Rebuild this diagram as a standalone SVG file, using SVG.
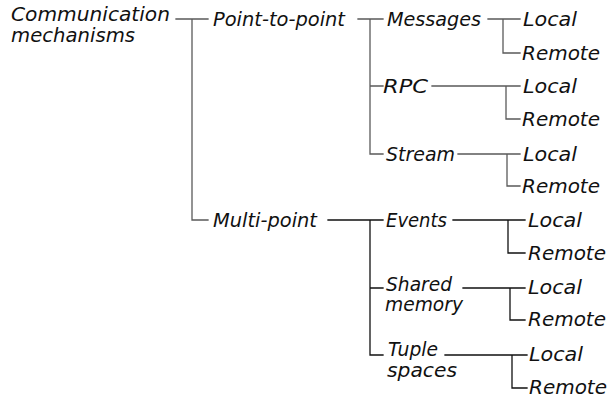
<svg xmlns="http://www.w3.org/2000/svg" width="609" height="398" viewBox="0 0 609 398">
  <style>
    .lbl { font-family: "DejaVu Sans", "Liberation Sans", sans-serif; font-style: italic; font-size: 19px; fill: #111; }
    .ln { fill: none; stroke-width: 1.3; stroke-linecap: square; }
    .gray { stroke: #5a5a5a; }
    .dark { stroke: #111; }
  </style>
  <rect width="609" height="398" fill="#fff"/>

  <!-- tree connectors -->
  <g id="connectors">
    <!-- root -->
    <path class="ln gray" d="M176 19H208M192 19V220H208"/>
    <!-- point-to-point branch -->
    <path class="ln gray" d="M358 19H383M370 19V154H383M370 86H383"/>
    <path class="ln gray" d="M488 19H520M503 19V53H520"/>
    <path class="ln gray" d="M432 86H520M506 86V119H520"/>
    <path class="ln gray" d="M458 154H520M507 154V186H520"/>
    <!-- multi-point branch -->
    <path class="ln dark" d="M328 220H383M370 220V355H383M370 288H383"/>
    <path class="ln dark" d="M453 220H525M508 220V253H525"/>
    <path class="ln dark" d="M463 288H525M510 288V320H525"/>
    <path class="ln dark" d="M445 355H527M512 355V388H527"/>
  </g>

  <g id="root">
    <text class="lbl" x="11" y="21" textLength="159" lengthAdjust="spacingAndGlyphs">Communication</text>
    <text class="lbl" x="11" y="42" textLength="124" lengthAdjust="spacingAndGlyphs">mechanisms</text>
  </g>
  <g id="point-to-point">
    <text class="lbl" x="213" y="26" textLength="132" lengthAdjust="spacingAndGlyphs">Point-to-point</text>
  </g>
  <g id="multi-point">
    <text class="lbl" x="213" y="227" textLength="104" lengthAdjust="spacingAndGlyphs">Multi-point</text>
  </g>

  <g id="messages">
    <text class="lbl" x="387" y="26" textLength="94" lengthAdjust="spacingAndGlyphs">Messages</text>
  </g>
  <g id="messages-local"><text class="lbl" x="523" y="26" textLength="54" lengthAdjust="spacingAndGlyphs">Local</text></g>
  <g id="messages-remote"><text class="lbl" x="522" y="60" textLength="78" lengthAdjust="spacingAndGlyphs">Remote</text></g>

  <g id="rpc">
    <text class="lbl" x="383" y="93" textLength="45" lengthAdjust="spacingAndGlyphs">RPC</text>
  </g>
  <g id="rpc-local"><text class="lbl" x="523" y="93" textLength="54" lengthAdjust="spacingAndGlyphs">Local</text></g>
  <g id="rpc-remote"><text class="lbl" x="522" y="126" textLength="78" lengthAdjust="spacingAndGlyphs">Remote</text></g>

  <g id="stream">
    <text class="lbl" x="386" y="161" textLength="69" lengthAdjust="spacingAndGlyphs">Stream</text>
  </g>
  <g id="stream-local"><text class="lbl" x="523" y="161" textLength="54" lengthAdjust="spacingAndGlyphs">Local</text></g>
  <g id="stream-remote"><text class="lbl" x="522" y="193" textLength="78" lengthAdjust="spacingAndGlyphs">Remote</text></g>

  <g id="events">
    <text class="lbl" x="386" y="227" textLength="61" lengthAdjust="spacingAndGlyphs">Events</text>
  </g>
  <g id="events-local"><text class="lbl" x="528" y="227" textLength="54" lengthAdjust="spacingAndGlyphs">Local</text></g>
  <g id="events-remote"><text class="lbl" x="528" y="260" textLength="78" lengthAdjust="spacingAndGlyphs">Remote</text></g>

  <g id="shared-memory">
    <text class="lbl" x="386" y="291" textLength="66" lengthAdjust="spacingAndGlyphs">Shared</text>
    <text class="lbl" x="385" y="311" textLength="78" lengthAdjust="spacingAndGlyphs">memory</text>
  </g>
  <g id="shared-local"><text class="lbl" x="528" y="294" textLength="54" lengthAdjust="spacingAndGlyphs">Local</text></g>
  <g id="shared-remote"><text class="lbl" x="528" y="326" textLength="78" lengthAdjust="spacingAndGlyphs">Remote</text></g>

  <g id="tuple-spaces">
    <text class="lbl" x="388" y="356" textLength="50" lengthAdjust="spacingAndGlyphs">Tuple</text>
    <text class="lbl" x="387" y="377" textLength="70" lengthAdjust="spacingAndGlyphs">spaces</text>
  </g>
  <g id="tuple-local"><text class="lbl" x="529" y="361" textLength="54" lengthAdjust="spacingAndGlyphs">Local</text></g>
  <g id="tuple-remote"><text class="lbl" x="529" y="394" textLength="78" lengthAdjust="spacingAndGlyphs">Remote</text></g>
</svg>
